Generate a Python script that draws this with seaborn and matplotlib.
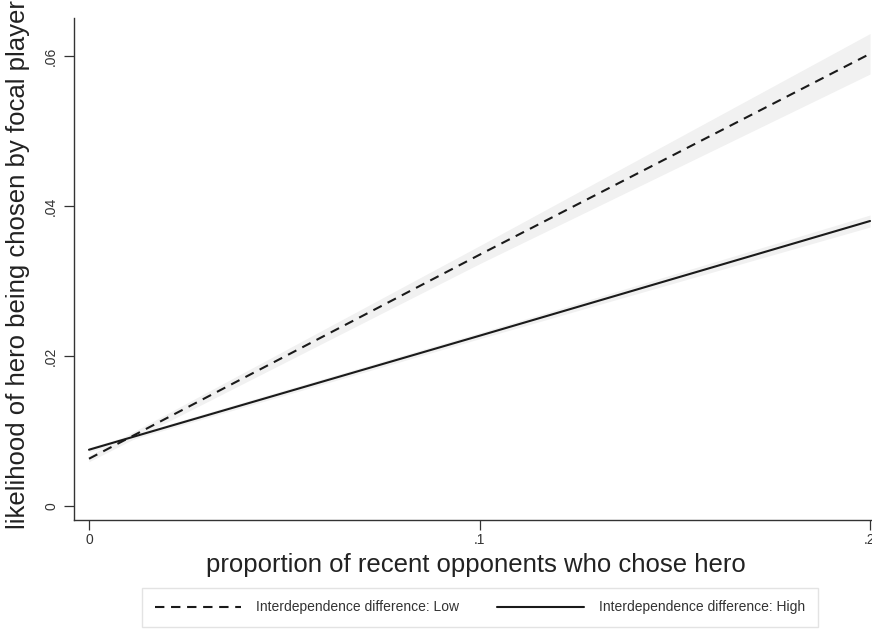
import numpy as np
import pandas as pd
import matplotlib
matplotlib.use("Agg")
import matplotlib.pyplot as plt
import seaborn as sns

# Predicted probabilities (margins) with 95% confidence limits
share_opponents = [0.0, 0.1, 0.2]
low_pred = [0.0063, 0.0335, 0.0603]
low_ci_lo = [0.0059, 0.0323, 0.0576]
low_ci_hi = [0.0067, 0.0347, 0.0630]
high_pred = [0.0075, 0.0227, 0.0380]
high_ci_lo = [0.0072, 0.0223, 0.0372]
high_ci_hi = [0.0078, 0.0231, 0.0388]

group_names = ["Interdependence difference: Low", "Interdependence difference: High"]
x_ticks = [0.0, 0.1, 0.2]
x_tick_labels = ["0", ".1", ".2"]
y_ticks = [0.0, 0.02, 0.04, 0.06]
y_tick_labels = ["0", ".02", ".04", ".06"]

df = pd.DataFrame({
    "x": share_opponents * 2,
    "y": low_pred + high_pred,
    "group": [group_names[0]] * len(share_opponents) + [group_names[1]] * len(share_opponents),
})

sns.set_theme(style="white")
plt.rcParams["font.family"] = ["Liberation Sans", "DejaVu Sans"]

W, H = 872, 630
fig = plt.figure(figsize=(W / 100, H / 100), dpi=100)
ax = fig.add_axes([74 / W, 110 / H, (W - 74) / W, (520 - 18) / H])

band_color = "#f1f1f1"
ax.fill_between(share_opponents, low_ci_lo, low_ci_hi, color=band_color, lw=0, zorder=1)
ax.fill_between(share_opponents, high_ci_lo, high_ci_hi, color=band_color, lw=0, zorder=1)

sns.lineplot(
    data=df, x="x", y="y", style="group",
    dashes={group_names[0]: (4.5, 3.2), group_names[1]: ""},
    color="#1a1a1a", linewidth=1.5, ax=ax, zorder=3, legend=True,
)

ax.set_xlim(-0.00384, 0.2005)
ax.set_ylim(-0.00187, 0.06507)
ax.set_xticks(x_ticks)
ax.set_xticklabels(x_tick_labels)
ax.set_yticks(y_ticks)
ax.set_yticklabels(y_tick_labels, rotation=90, va="center")

for side in ["top", "right"]:
    ax.spines[side].set_visible(False)
for side in ["left", "bottom"]:
    ax.spines[side].set_color("#333333")
    ax.spines[side].set_linewidth(1.0)

ax.tick_params(axis="both", which="major", direction="out", length=7.5, width=0.9,
               color="#333333", labelsize=10, labelcolor="#333333",
               left=True, bottom=True)
ax.tick_params(axis="y", pad=4)
ax.tick_params(axis="x", pad=2)

ax.set_ylabel("likelihood of hero being chosen by focal player", fontsize=18.5,
              color="#222222", va="center")
ax.yaxis.set_label_coords(-0.070, 0.508)
ax.set_xlabel("proportion of recent opponents who chose hero", fontsize=18.5,
              color="#222222", va="center")
ax.xaxis.set_label_coords(0.504, -0.0896)

handles, labels = ax.get_legend_handles_labels()
ax.legend_.remove()
leg = fig.legend(
    handles, labels, loc="center", bbox_to_anchor=(480 / W, 1 - 607.5 / H),
    ncol=2, frameon=True, fancybox=False, fontsize=10,
    handlelength=6.26, handletextpad=1.08, columnspacing=2.73,
    borderpad=0.9,
)
leg.get_frame().set_edgecolor("#dddddd")
leg.get_frame().set_linewidth(1.0)
for t in leg.get_texts():
    t.set_color("#333333")

fig.savefig("out.png", dpi=100, facecolor="white")
